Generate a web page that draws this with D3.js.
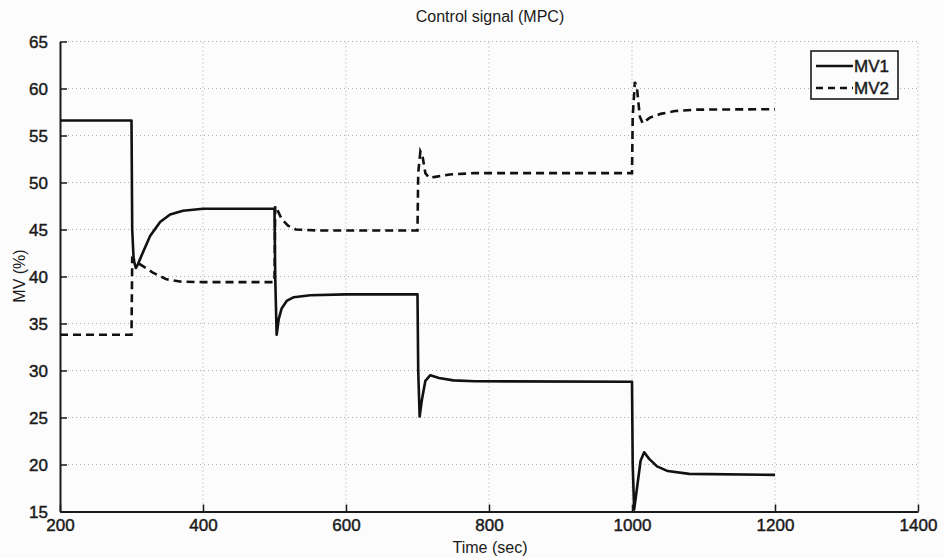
<!DOCTYPE html>
<meta charset="utf-8">
<head>
    <script src="https://d3js.org/d3.v7.min.js"></script>
    <style>
        body { margin: 0; background: #fcfcfc; }
        text { font-family: 'Liberation Sans', Arial, sans-serif; fill: #1a1a1a; }
        .tick text { font-size: 17px; stroke: #1a1a1a; stroke-width: 0.45px; }
        .grid line { stroke: #aaa; stroke-dasharray: 1,3; }
    </style>
</head>
<body>
<div id="chart"></div>
<script>

// MV1 (solid) - [time, value]
var mv1 = [
    [200, 56.6], [300, 56.6], [301, 45], [303, 41.8], [306, 40.9], [309, 41.3], [315, 42.4],
    [326, 44.3], [340, 45.8], [354, 46.6], [372, 47.0], [400, 47.2], [500, 47.2],
    [501, 40], [503, 33.8], [506, 35.5], [510, 36.6], [517, 37.4], [527, 37.8], [550, 38.0],
    [600, 38.1], [700, 38.1], [701, 30], [703, 25.1], [706, 26.8], [711, 28.9], [718, 29.5],
    [730, 29.2], [750, 28.95], [780, 28.85], [1000, 28.8],
    [1001, 20], [1003, 15.2], [1007, 17.5], [1012, 20.4], [1017, 21.3], [1024, 20.6],
    [1035, 19.8], [1050, 19.3], [1080, 19.0], [1200, 18.9]
];

// MV2 (dashed) - [time, value]
var mv2 = [
    [200, 33.8], [300, 33.8], [301, 41.9], [310, 41.4], [320, 40.9], [330, 40.4],
    [349, 39.7], [370, 39.45], [400, 39.4], [500, 39.4],
    [501, 47.5], [504, 47.1], [510, 46.1], [519, 45.4], [530, 45.0], [560, 44.9], [700, 44.9],
    [701, 51], [704, 53.3], [707, 52.8], [711, 51.0], [716, 50.5], [725, 50.6],
    [745, 50.85], [780, 51.0], [1000, 51.0],
    [1001, 57], [1004, 60.7], [1007, 60.0], [1011, 57.0], [1015, 56.3], [1025, 56.9],
    [1040, 57.3], [1060, 57.6], [1090, 57.75], [1200, 57.8]
];

var xTicks = [200, 400, 600, 800, 1000, 1200, 1400];
var yTicks = [15, 20, 25, 30, 35, 40, 45, 50, 55, 60, 65];
var seriesNames = ["MV1", "MV2"];

var width = 944, height = 558;
var margin = {left: 60, right: 26, top: 41.5, bottom: 46.5};

var svg = d3.select("#chart").append("svg")
    .attr("width", width).attr("height", height);

var x = d3.scaleLinear().domain([200, 1400]).range([margin.left, width - margin.right]);
var y = d3.scaleLinear().domain([15, 65]).range([height - margin.bottom, margin.top]);

// grid
svg.append("g").attr("class", "grid")
    .selectAll("line").data(xTicks.slice(1)).enter().append("line")
    .attr("x1", x).attr("x2", x)
    .attr("y1", y(15)).attr("y2", y(65));
svg.append("g").attr("class", "grid")
    .selectAll("line").data(yTicks.slice(1)).enter().append("line")
    .attr("x1", x(200)).attr("x2", x(1400))
    .attr("y1", y).attr("y2", y);

// axes with inward ticks
var xAxis = svg.append("g")
    .attr("transform", "translate(0," + y(15) + ")")
    .call(d3.axisBottom(x).tickValues(xTicks).tickFormat(d3.format("d"))
        .tickSizeInner(-7).tickSizeOuter(0).tickPadding(16));
var yAxis = svg.append("g")
    .attr("transform", "translate(" + x(200) + ",0)")
    .call(d3.axisLeft(y).tickValues(yTicks).tickFormat(d3.format("d"))
        .tickSizeInner(-7).tickSizeOuter(0).tickPadding(12));

[xAxis, yAxis].forEach(function(a) {
    a.select(".domain").attr("stroke", "#1a1a1a").attr("stroke-width", 2);
    a.selectAll(".tick line").attr("stroke", "#1a1a1a").attr("stroke-width", 1.5);
});
xAxis.selectAll(".tick text").attr("dy", "0.2em");
yAxis.selectAll(".tick text").attr("dy", "0.36em");

// lines
var line = d3.line().x(function(d) { return x(d[0]); }).y(function(d) { return y(d[1]); });

svg.append("path").datum(mv1)
    .attr("d", line).attr("fill", "none")
    .attr("stroke", "#111").attr("stroke-width", 2.6).attr("stroke-linejoin", "round");
svg.append("path").datum(mv2)
    .attr("d", line).attr("fill", "none")
    .attr("stroke", "#111").attr("stroke-width", 2.6).attr("stroke-dasharray", "8,5");

// legend
var lg = svg.append("g").attr("transform", "translate(811,51)");
lg.append("rect").attr("width", 87).attr("height", 48)
    .attr("fill", "#fcfcfc").attr("stroke", "#1a1a1a").attr("stroke-width", 1.6);
lg.selectAll("line.leg").data(seriesNames).enter().append("line")
    .attr("x1", 5).attr("x2", 42)
    .attr("y1", function(d, i) { return 15 + i * 22; })
    .attr("y2", function(d, i) { return 15 + i * 22; })
    .attr("stroke", "#111").attr("stroke-width", 2.4)
    .attr("stroke-dasharray", function(d, i) { return i ? "7,5" : null; });
lg.selectAll("text").data(seriesNames).enter().append("text")
    .attr("x", 43).attr("y", function(d, i) { return 15 + i * 22; })
    .attr("dy", "0.36em")
    .style("font-size", "17px").style("stroke", "#1a1a1a").style("stroke-width", "0.45px")
    .text(function(d) { return d; });

// titles
svg.append("text").attr("x", 490).attr("y", 22).attr("text-anchor", "middle")
    .style("font-size", "16px").text("Control signal (MPC)");
svg.append("text").attr("x", 490).attr("y", 553).attr("text-anchor", "middle")
    .style("font-size", "16px").text("Time (sec)");
svg.append("text").attr("transform", "translate(25,276) rotate(-90)").attr("text-anchor", "middle")
    .style("font-size", "16px").text("MV (%)");

</script>
</body>
